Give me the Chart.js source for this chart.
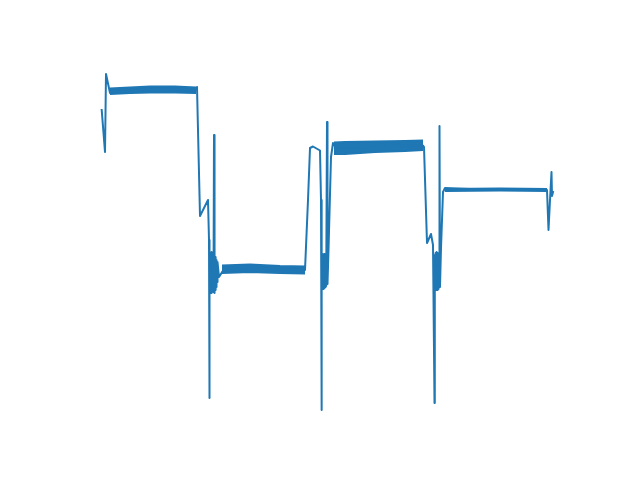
<!DOCTYPE html>
<html>
<head>
<meta charset="utf-8">
<script src="https://cdn.jsdelivr.net/npm/chart.js@4"></script>
<style>
  html, body { margin: 0; padding: 0; background: #ffffff; }
  #c { display: block; }
</style>
</head>
<body>
<canvas id="c" width="640" height="480"></canvas>
<script>
// Signal trace (time in ms, value in mV)
const signalTime = [17,50,60,100,200,400,600,800,960,970,
  1000,1040,1080,1090,1093,
  1097,1102,1106,1110,1114,1118,1122,1126,1130,1135,
  1140,1143,1148,1152,1156,1160,1165,1170,1175,1190,
  1240,1400,1600,1800,2000,
  2050,2080,2100,2130,2200,2210,2215,
  2218,2222,2226,2230,2234,2238,2242,2246,2250,2254,2258,2262,
  2270,2275,2285,2310,2330,2360,2600,2900,
  3230,3240,3270,3310,3330,3345,
  3348,3352,3356,3360,3364,3368,3372,3376,3380,3385,3390,
  3395,3400,3410,3430,3450,3700,4000,4300,4470,4485,
  4500,4515,4520,4530];
const signalValue = [1600,1180,1960,1770,1785,1800,1805,1805,1805,1830,
  540,620,700,300,-1280,
  150,-220,170,-230,180,-210,170,-200,160,-220,
  1350,-230,150,-200,130,-170,100,-120,80,-70,
  10,20,15,5,0,
  0,700,1220,1235,1195,700,-1400,
  140,-180,160,-190,150,-170,160,-180,150,-170,140,-160,
  1480,-140,200,1130,1270,1220,1225,1240,
  1245,1230,270,360,250,-1330,
  150,-180,170,-200,180,-190,170,-200,160,-190,150,
  1440,-170,220,780,820,810,805,805,800,400,
  700,980,740,780];

// High-frequency ripple envelopes on the plateaus
const band1Time  = [100, 300, 500, 750, 960];
const band1Upper = [1815, 1825, 1835, 1835, 1825];
const band1Lower = [1760, 1770, 1775, 1775, 1770];

const band2Time  = [1220, 1500, 1800, 2050];
const band2Upper = [45, 55, 40, 35];
const band2Lower = [-30, -20, -30, -35];

const band3Time  = [2340, 2450, 2750, 3050, 3230];
const band3Upper = [1275, 1280, 1285, 1290, 1295];
const band3Lower = [1160, 1160, 1180, 1190, 1200];

const band4Time  = [3450, 4000, 4470];
const band4Upper = [810, 815, 810];
const band4Lower = [790, 795, 790];

// Axis limits (hidden axes)
const xLimits = [-200, 4760];
const yLimits = [-1524, 2124];

const COLOR = '#1f77b4';
const LW = 2;

function pts(xs, ys) { return xs.map((x, i) => ({ x: x, y: ys[i] })); }

const datasets = [];
datasets.push({
  data: pts(signalTime, signalValue),
  borderColor: COLOR, borderWidth: LW, pointRadius: 0, fill: false,
  tension: 0, borderJoinStyle: 'round', borderCapStyle: 'square'
});
const bands = [
  [band1Time, band1Upper, band1Lower],
  [band2Time, band2Upper, band2Lower],
  [band3Time, band3Upper, band3Lower],
  [band4Time, band4Upper, band4Lower]
];
bands.forEach(b => {
  const idx = datasets.length;
  datasets.push({
    data: pts(b[0], b[1]),
    borderColor: COLOR, borderWidth: LW, pointRadius: 0, fill: false,
    tension: 0, borderJoinStyle: 'round'
  });
  datasets.push({
    data: pts(b[0], b[2]),
    borderColor: COLOR, borderWidth: LW, pointRadius: 0,
    fill: { target: idx }, backgroundColor: COLOR,
    tension: 0, borderJoinStyle: 'round'
  });
});

new Chart(document.getElementById('c'), {
  type: 'line',
  data: { datasets: datasets },
  options: {
    responsive: false,
    animation: false,
    devicePixelRatio: 1,
    layout: { padding: { left: 80, right: 64, top: 57.6, bottom: 57.6 } },
    plugins: { legend: { display: false }, tooltip: { enabled: false } },
    scales: {
      x: { type: 'linear', display: false, min: xLimits[0], max: xLimits[1] },
      y: { type: 'linear', display: false, min: yLimits[0], max: yLimits[1] }
    }
  }
});
</script>
</body>
</html>
